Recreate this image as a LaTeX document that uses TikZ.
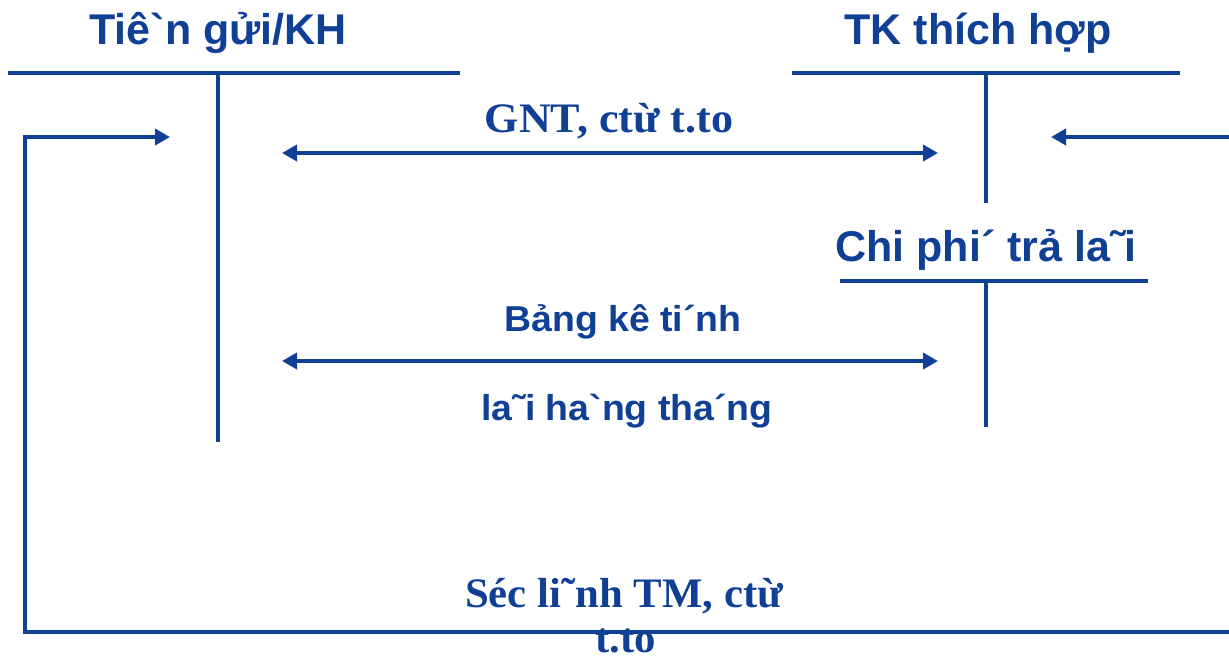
\documentclass[tikz,border=0pt]{standalone}
\usepackage{fontspec}
\usetikzlibrary{arrows.meta}
\newfontfamily\acctsans[Ligatures=TeXOff]{Liberation Sans}
\newfontfamily\acctserif[Ligatures=TeXOff]{Liberation Serif}
\definecolor{ink}{RGB}{16,64,150}
\begin{document}
\begin{tikzpicture}[x=1pt,y=-1pt,line width=4pt,color=ink,
  title/.style={font=\acctsans\bfseries\fontsize{43}{48}\selectfont,inner sep=0pt,anchor=base},
  sanslabel/.style={font=\acctsans\bfseries\fontsize{36}{40}\selectfont,inner sep=0pt,anchor=base,xscale=1.04},
  seriflabel/.style={font=\acctserif\bfseries\fontsize{42}{48}\selectfont,inner sep=0pt,anchor=base,xscale=1.05},
  tip/.style={-{Triangle[length=15pt,width=16pt]}},
  both/.style={{Triangle[length=15pt,width=16pt]}-{Triangle[length=15pt,width=16pt]}}]
\useasboundingbox (0,0) rectangle (1229,660);

% account titles
\node[title] (dep) at (218,45) {Tiê`n gửi/KH};
\node[title] (acc) at (978,45) {TK thích hợp};
\node[title] (exp) at (986,262) {Chi phi´ trả la˜i};

% T-account rules
\coordinate (depL) at (8,73);   \coordinate (depR) at (460,73);
\coordinate (depT) at (218,73); \coordinate (depB) at (218,442);
\coordinate (accL) at (792,73); \coordinate (accR) at (1180,73);
\coordinate (accT) at (986,73); \coordinate (accB) at (986,203);
\coordinate (expL) at (840,281); \coordinate (expR) at (1148,281);
\coordinate (expT) at (986,281); \coordinate (expB) at (986,427);
\draw (depL) -- (depR); \draw (depT) -- (depB);
\draw (accL) -- (accR); \draw (accT) -- (accB);
\draw (expL) -- (expR); \draw (expT) -- (expB);

% two-way flows between the accounts
\coordinate (a1) at (282,153); \coordinate (b1) at (938,153);
\coordinate (a2) at (282,361); \coordinate (b2) at (938,361);
\draw[both] (a1) -- (b1);
\draw[both] (a2) -- (b2);
\node[seriflabel] (gnt) at (609,133) {GNT, ctừ t.to};
\node[sanslabel] (bk1) at (623,331) {Bảng kê ti´nh};
\node[sanslabel] (bk2) at (627,420) {la˜i ha`ng tha´ng};

% cash withdrawal loop
\coordinate (loopE) at (1240,632);
\coordinate (loopW) at (25,137);
\coordinate (depIn) at (170,137);
\coordinate (accS) at (1240,137);
\coordinate (accIn) at (1051,137);
\draw[tip] (loopE) -| (loopW) -- (depIn);
\draw[tip] (accS) -- (accIn);
\node[seriflabel,xscale=0.97] (sec1) at (624,607) {Séc li˜nh TM, ctừ};
\node[seriflabel,xscale=0.97] (sec2) at (626,652) {t.to};
\end{tikzpicture}
\end{document}
